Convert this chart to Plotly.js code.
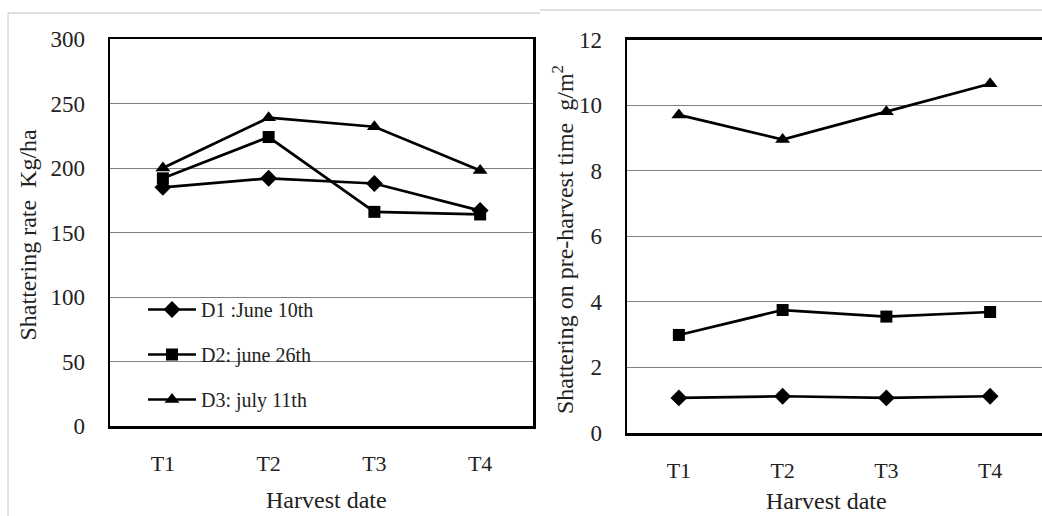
<!DOCTYPE html>
<html>
<head>
<meta charset="utf-8">
<script src="https://cdn.plot.ly/plotly-3.0.1.min.js"></script>
<style>html,body{margin:0;padding:0;background:#fff;}#chart{width:1042px;height:516px;}</style>
</head>
<body>
<div id="chart"></div>
<script>
// Categories
const harvestDates = ["T1", "T2", "T3", "T4"];
// Series names
const seriesNames = ["D1 :June 10th", "D2: june 26th", "D3: july 11th"];
// Left panel: Shattering rate (Kg/ha)
const rateD1 = [185, 192, 188, 167];
const rateD2 = [192, 224, 166, 164];
const rateD3 = [200, 239, 232, 198];
// Right panel: Shattering on pre-harvest time (g/m2)
const preD1 = [1.07, 1.12, 1.07, 1.12];
const preD2 = [2.99, 3.75, 3.55, 3.69];
const preD3 = [9.7, 8.95, 9.8, 10.65];
// Tick values
const leftTicks = [0, 50, 100, 150, 200, 250, 300];
const rightTicks = [0, 2, 4, 6, 8, 10, 12];

const symbols = ["diamond", "square", "triangle-up"];
const sizes = [13, 12, 13];
const FONT = "Liberation Serif, Times New Roman, serif";
const W = 1042, H = 516;

const leftSeries = [rateD1, rateD2, rateD3];
const rightSeries = [preD1, preD2, preD3];
const traces = [];
leftSeries.forEach((ys, i) => {
  traces.push({
    x: harvestDates, y: ys, type: "scatter", mode: "lines+markers",
    name: seriesNames[i], legendgroup: "g" + i,
    line: {color: "#000", width: 2.7},
    marker: {symbol: symbols[i], size: sizes[i], color: "#000"},
    xaxis: "x", yaxis: "y", cliponaxis: false
  });
});
rightSeries.forEach((ys, i) => {
  traces.push({
    x: harvestDates, y: ys, type: "scatter", mode: "lines+markers",
    name: seriesNames[i], legendgroup: "g" + i, showlegend: false,
    line: {color: "#000", width: 2.7},
    marker: {symbol: symbols[i], size: sizes[i], color: "#000"},
    xaxis: "x2", yaxis: "y2", cliponaxis: false
  });
});

const xBase = {
  type: "category", range: [-0.5, 3.5],
  showline: true, mirror: true, linecolor: "#000", linewidth: 2.5,
  showgrid: false, zeroline: false,
  ticks: "outside", ticklen: 16, tickcolor: "rgba(0,0,0,0)",
  tickfont: {family: FONT, size: 22, color: "#222"}, fixedrange: true
};
const yBase = {
  showline: true, mirror: true, linecolor: "#000", linewidth: 2.5,
  showgrid: true, gridcolor: "#808080", gridwidth: 1, zeroline: false,
  ticks: "outside", ticklen: 18, tickcolor: "rgba(0,0,0,0)",
  tickfont: {family: FONT, size: 23, color: "#222"}, fixedrange: true
};

const layout = {
  width: W, height: H,
  margin: {l: 0, r: 0, t: 0, b: 0},
  paper_bgcolor: "#fff", plot_bgcolor: "#fff",
  showlegend: true,
  legend: {
    x: 143 / W, xanchor: "left", y: (H - 290) / H, yanchor: "top",
    bgcolor: "rgba(0,0,0,0)", borderwidth: 0,
    tracegroupgap: 16, itemwidth: 48,
    font: {family: FONT, size: 20, color: "#222"}
  },
  xaxis: Object.assign({}, xBase, {domain: [110 / W, 533 / W], anchor: "y"}),
  yaxis: Object.assign({}, yBase, {domain: [(H - 426) / H, (H - 39) / H], anchor: "x",
    range: [0, 300], tickvals: leftTicks, ticktext: leftTicks.map(String)}),
  xaxis2: Object.assign({}, xBase, {domain: [627 / W, 1], anchor: "y2"}),
  yaxis2: Object.assign({}, yBase, {domain: [(H - 433) / H, (H - 39.5) / H], anchor: "x2",
    range: [0, 12], tickvals: rightTicks, ticktext: rightTicks.map(String)}),
  annotations: [
    {text: "Shattering rate\u00a0\u00a0Kg/ha", xref: "paper", yref: "paper",
     x: 27.5 / W, y: (H - 235) / H, xanchor: "center", yanchor: "middle",
     textangle: -90, showarrow: false, font: {family: FONT, size: 24, color: "#222"}},
    {text: "Harvest date", xref: "paper", yref: "paper",
     x: 326 / W, y: (H - 500) / H, xanchor: "center", yanchor: "middle",
     showarrow: false, font: {family: FONT, size: 24, color: "#222"}},
    {text: "Shattering on pre-harvest time\u00a0\u00a0g/m<sup>2</sup>", xref: "paper", yref: "paper",
     x: 563 / W, y: (H - 240) / H, xanchor: "center", yanchor: "middle",
     textangle: -90, showarrow: false, font: {family: FONT, size: 24, color: "#222"}},
    {text: "Harvest date", xref: "paper", yref: "paper",
     x: 826 / W, y: (H - 501) / H, xanchor: "center", yanchor: "middle",
     showarrow: false, font: {family: FONT, size: 24, color: "#222"}}
  ],
  shapes: [
    {type: "line", xref: "paper", yref: "paper", x0: 8 / W, x1: 540 / W, y0: (H - 13) / H, y1: (H - 13) / H,
     line: {color: "#c0c0c0", width: 1}},
    {type: "line", xref: "paper", yref: "paper", x0: 8 / W, x1: 8 / W, y0: (H - 13) / H, y1: 0,
     line: {color: "#c8c8c8", width: 1}},
    {type: "line", xref: "paper", yref: "paper", x0: 540 / W, x1: 1, y0: (H - 10) / H, y1: (H - 10) / H,
     line: {color: "#c0c0c0", width: 1}}
  ]
};

Plotly.newPlot("chart", traces, layout, {displayModeBar: false, staticPlot: true});
</script>
</body>
</html>
